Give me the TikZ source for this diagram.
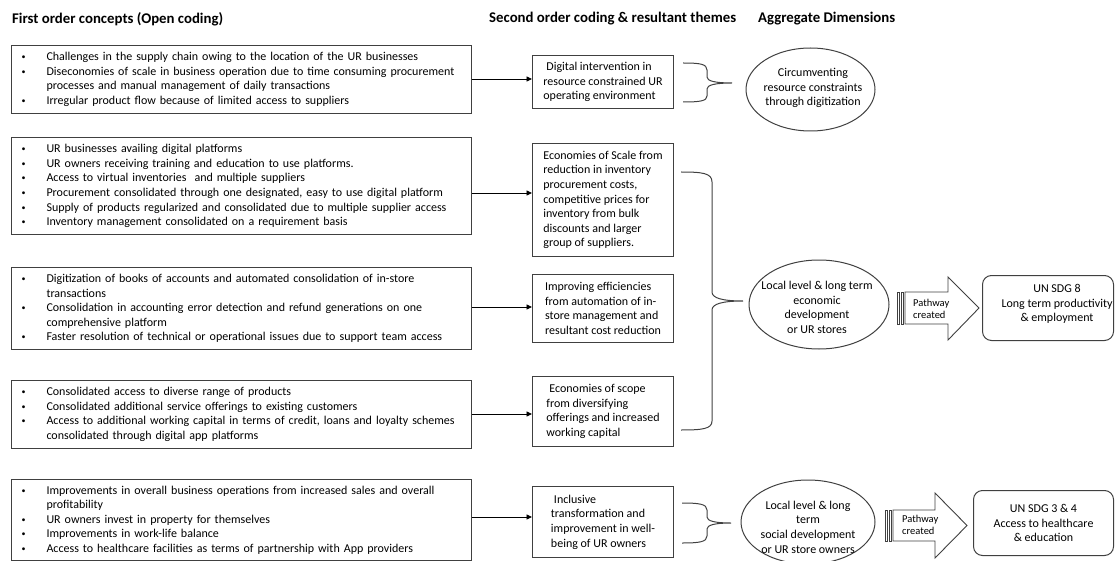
\documentclass[tikz,border=0pt]{standalone}
\usepackage{fontspec}
\setmainfont{Carlito}
\usetikzlibrary{arrows.meta,shapes.geometric}
\definecolor{frame}{HTML}{404040}
\newcommand\bul{\makebox[25pt][l]{\raisebox{1pt}{\fontsize{8}{8}\selectfont\textbullet}}}
\newcommand\cnt{\hspace*{25pt}}
\begin{document}
\begin{tikzpicture}[x=1pt,y=-1pt,
 bodyfont/.style={font=\fontsize{12}{14.6}\selectfont},
 ttl/.style={font=\bfseries\fontsize{14.8}{17}\selectfont, anchor=west, inner sep=0pt},
 listbox/.style={draw=frame, line width=1pt, anchor=north west, text width=440pt, inner xsep=10pt, inner ysep=0pt, align=left, bodyfont},
 themebox/.style={draw=frame, line width=1pt, anchor=north west, minimum width=141pt, inner sep=0pt, align=left, bodyfont},
 dimell/.style={draw=frame, line width=1pt, ellipse, inner sep=0pt},
 eltext/.style={align=center, bodyfont, inner sep=0pt},
 sdgbox/.style={draw=frame, line width=1pt, rounded corners=9pt, anchor=north west, inner sep=0pt, align=center, bodyfont},
 feed/.style={draw=black, line width=0.9pt, -{Triangle[length=5.5pt,width=5pt]}},
 brace/.style={draw=frame, line width=1pt},
 blockarrow/.style={draw=frame, line width=0.9pt, fill=white},
 pwtext/.style={align=left, font=\fontsize{10.5}{12}\selectfont, inner sep=0pt},
]
\useasboundingbox (0,0) rectangle (1115,561);

% titles
\node[ttl] (t1) at (12,19) {First order concepts (Open coding)};
\node[ttl] (t2) at (489,19) {Second order coding \& resultant themes};
\node[ttl] (t3) at (758,19) {Aggregate Dimensions};

% first order boxes
\node[listbox, minimum height=68pt] (b1) at (11,45) {%
\bul Challenges in the supply chain owing to the location of the UR businesses\\
\bul Diseconomies of scale in business operation due to time consuming procurement\\
\cnt processes and manual management of daily transactions\\
\bul Irregular product flow because of limited access to suppliers};

\node[listbox, minimum height=97pt] (b2) at (11,137) {%
\bul UR businesses availing digital platforms\\
\bul UR owners receiving training and education to use platforms.\\
\bul Access to virtual inventories\ \ and multiple suppliers\\
\bul Procurement consolidated through one designated, easy to use digital platform\\
\bul Supply of products regularized and consolidated due to multiple supplier access\\
\bul Inventory management consolidated on a requirement basis};

\node[listbox, minimum height=82pt] (b3) at (11,267) {%
\bul Digitization of books of accounts and automated consolidation of in-store\\
\cnt transactions\\
\bul Consolidation in accounting error detection and refund generations on one\\
\cnt comprehensive platform\\
\bul Faster resolution of technical or operational issues due to support team access};

\node[listbox, minimum height=68pt] (b4) at (11,380) {%
\bul Consolidated access to diverse range of products\\
\bul Consolidated additional service offerings to existing customers\\
\bul Access to additional working capital in terms of credit, loans and loyalty schemes\\
\cnt consolidated through digital app platforms};

\node[listbox, minimum height=81pt] (b5) at (11,479) {%
\bul Improvements in overall business operations from increased sales and overall\\
\cnt profitability\\
\bul UR owners invest in property for themselves\\
\bul Improvements in work-life balance\\
\bul Access to healthcare facilities as terms of partnership with App providers};

% second order themes
\node[themebox, minimum height=53pt] (s1) at (532,55) {%
\hspace*{3pt}Digital intervention in\\resource constrained UR\\operating environment};
\node[themebox, minimum height=113pt] (s2) at (532,143) {%
Economies of Scale from\\reduction in inventory\\procurement costs,\\competitive prices for\\inventory from bulk\\discounts and larger\\group of suppliers.};
\node[themebox, minimum height=68pt] (s3) at (532,274) {%
Improving efficiencies\\from automation of in-\\store management and\\resultant cost reduction};
\node[themebox, minimum height=70pt] (s4) at (532,376) {%
\hspace*{3pt}Economies of scope\\from diversifying\\offerings and increased\\working capital};
\node[themebox, minimum height=71pt] (s5) at (532,486) {%
\hspace*{3pt}Inclusive\\transformation and\\improvement in well-\\being of UR owners};

% feed arrows
\draw[feed] (b1.east |- 0,79) -- (s1.west |- 0,79);
\draw[feed] (b2.east |- 0,193) -- (s2.west |- 0,193);
\draw[feed] (b3.east |- 0,307) -- (s3.west |- 0,307);
\draw[feed] (b4.east |- 0,414) -- (s4.west |- 0,414);
\draw[feed] (b5.east |- 0,517) -- (s5.west |- 0,517);

% braces
\draw[brace] (683,63) .. controls (700,63) and (707,64) .. (707,70) -- (707,77)
  .. controls (707,81) and (715,83) .. (732,83)
  .. controls (715,83) and (707,85) .. (707,89) -- (707,96)
  .. controls (707,101) and (700,102) .. (683,102);
\draw[brace] (681,172) .. controls (702,172) and (712,173) .. (712,182) -- (712,292)
  .. controls (712,298) and (722,301) .. (743,301)
  .. controls (722,301) and (712,304) .. (712,310) -- (712,421)
  .. controls (712,429) and (702,430) .. (681,430);
\draw[brace] (682,503) .. controls (699,503) and (707,504) .. (707,510) -- (707,517)
  .. controls (707,521) and (715,523) .. (731,523)
  .. controls (715,523) and (707,525) .. (707,529) -- (707,536)
  .. controls (707,542) and (699,543) .. (682,543);

% aggregate dimensions
\node[dimell, minimum width=129pt, minimum height=83pt] (e1) at (810.5,89.5) {};
\node[eltext] (e1t) at (813,88) {Circumventing\\resource constraints\\through digitization};
\node[dimell, minimum width=140pt, minimum height=89pt] (e2) at (819,304.5) {};
\node[eltext] (e2t) at (817,307.5) {Local level \& long term\\economic\\development\\or UR stores};
\node[dimell, minimum width=134pt, minimum height=84pt] (e3) at (808,522) {};
\node[eltext] (e3t) at (808,527) {Local level \& long\\term\\social development\\or UR store owners};

% pathway block arrows
\draw[blockarrow] (905,292) -- (948,292) -- (948,277) -- (979,308) -- (948,340) -- (948,324) -- (905,324) -- cycle;
\draw[blockarrow] (897,292) rectangle (899.5,324);
\draw[blockarrow] (901,292) rectangle (903.5,324);
\node[pwtext, anchor=west] (pw1) at (913,309) {Pathway\\created};

\draw[blockarrow] (893,510) -- (935,510) -- (935,493) -- (967,525.5) -- (935,558) -- (935,541) -- (893,541) -- cycle;
\draw[blockarrow] (885,510) rectangle (887.5,541);
\draw[blockarrow] (889,510) rectangle (891.5,541);
\node[pwtext, anchor=west] (pw2) at (902,525) {Pathway\\created};

% SDG boxes
\node[sdgbox, minimum width=131pt, minimum height=65pt] (r1) at (982,275) {};
\node[eltext] (r1t) at (1057,304) {UN SDG 8\\Long term productivity\\\& employment};
\node[sdgbox, minimum width=140pt, minimum height=65pt] (r2) at (973,490) {UN SDG 3 \& 4\\Access to healthcare\\\& education};
\end{tikzpicture}
\end{document}
